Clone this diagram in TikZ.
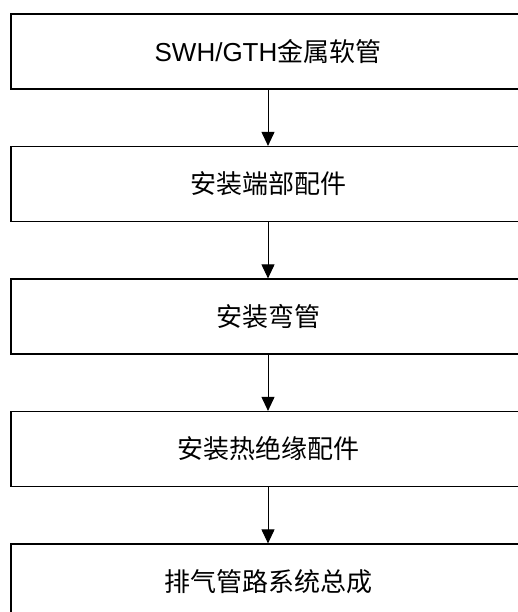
\documentclass[tikz,border=0pt]{standalone}
\usepackage{fontspec}
\setmainfont{Liberation Sans}
\newfontfamily\cjk{Noto Sans CJK SC}
\usetikzlibrary{arrows.meta}
\tikzset{
  flowbox/.style={draw=black, line width=1.2bp, minimum width=514bp, minimum height=75bp, inner sep=0pt, font=\fontsize{26bp}{30bp}\selectfont, anchor=center},
  flowarrow/.style={line width=1bp, -{Triangle[width=13bp,length=14bp]}}
}
\begin{document}
\begin{tikzpicture}[x=1bp,y=-1bp]
\useasboundingbox (0,0) rectangle (518,612);
\clip (0,0) rectangle (518,612);
\fill[white] (0,0) rectangle (518,612);
\node[flowbox] (b1) at (268,51.5) {SWH/GTH{\cjk 金属软管}};
\node[flowbox] (b2) at (268,184) {\cjk 安装端部配件};
\node[flowbox] (b3) at (268,316.5) {\cjk 安装弯管};
\node[flowbox] (b4) at (268,449) {\cjk 安装热绝缘配件};
\node[flowbox] (b5) at (268,581.5) {\cjk 排气管路系统总成};
\draw[flowarrow] (b1.south) -- (b2.north);
\draw[flowarrow] (b2.south) -- (b3.north);
\draw[flowarrow] (b3.south) -- (b4.north);
\draw[flowarrow] (b4.south) -- (b5.north);
\end{tikzpicture}
\end{document}
